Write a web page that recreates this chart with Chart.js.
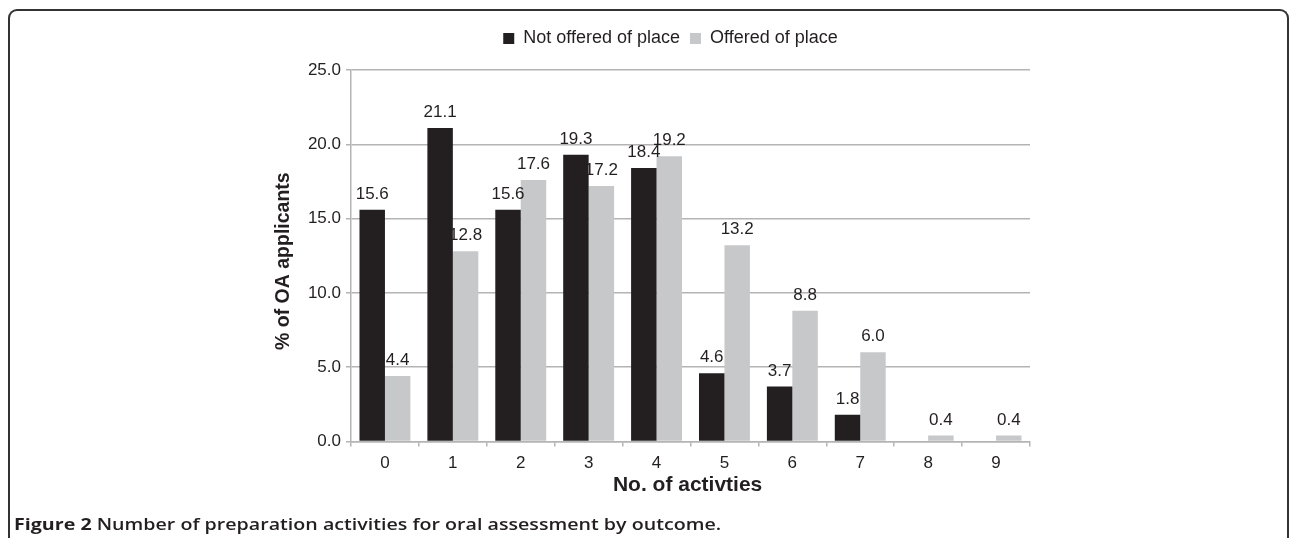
<!DOCTYPE html>
<html>
<head>
<meta charset="utf-8">
<script src="https://cdn.jsdelivr.net/npm/chart.js@4.4.1/dist/chart.umd.min.js"></script>
<style>
  html, body { margin: 0; padding: 0; background: #fff; }
  body { width: 1290px; height: 538px; overflow: hidden; position: relative; }
  #frame {
    position: absolute; left: 8px; top: 9px; width: 1277px; height: 600px;
    border: 2px solid #333; border-bottom: none;
    border-top-left-radius: 9px; border-top-right-radius: 9px;
  }
  #chart { position: absolute; left: 0; top: 0; }
  #caption {
    position: absolute; left: 14px; top: 512px;
    font-family: "Open Sans", sans-serif; font-weight: 600; font-size: 16.5px;
    line-height: 24px; color: #231f20; white-space: nowrap;
    transform: scaleX(1.19); transform-origin: 0 0;
  }
  #caption b { font-weight: 700; }
</style>
</head>
<body>
<div id="frame"></div>
<canvas id="chart" width="1290" height="538"></canvas>
<div id="caption"><b>Figure 2</b> Number of preparation activities for oral assessment by outcome.</div>
<script>
const categories = ["0", "1", "2", "3", "4", "5", "6", "7", "8", "9"];
const notOffered = [15.6, 21.1, 15.6, 19.3, 18.4, 4.6, 3.7, 1.8, 0, 0];
const offered = [4.4, 12.8, 17.6, 17.2, 19.2, 13.2, 8.8, 6.0, 0.4, 0.4];
const yMax = 25;
const yStep = 5;

const dark = "#231f20";
const light = "#c7c8ca";
const gridGray = "#b4b4b4";
const font = "'Liberation Sans', Arial, sans-serif";

// value labels above bars
const barLabels = {
  id: "barLabels",
  afterDatasetsDraw(chart) {
    const ctx = chart.ctx;
    ctx.save();
    ctx.font = "17px " + font;
    ctx.fillStyle = dark;
    ctx.textAlign = "center";
    ctx.textBaseline = "alphabetic";
    chart.data.datasets.forEach((ds, i) => {
      chart.getDatasetMeta(i).data.forEach((bar, j) => {
        const v = ds.data[j];
        if (!v) return;
        ctx.fillText(v.toFixed(1), bar.x, bar.y - 11);
      });
    });
    ctx.restore();
  }
};

// legend sits higher above the plot (and a bit right) compared to chart.js default
const legendShift = {
  id: "legendShift",
  afterLayout(chart) {
    const lg = chart.legend;
    lg.top -= 12.5; lg.bottom -= 12.5;
    lg.left += 5.5; lg.right += 5.5;
  }
};

new Chart(document.getElementById("chart"), {
  type: "bar",
  data: {
    labels: categories,
    datasets: [
      { label: "Not offered of place", data: notOffered, backgroundColor: dark },
      { label: "Offered of place", data: offered, backgroundColor: light }
    ]
  },
  options: {
    responsive: false,
    animation: false,
    devicePixelRatio: 1,
    categoryPercentage: 0.75,
    barPercentage: 1,
    layout: { padding: { left: 300, right: 260, top: 20, bottom: 40 } },
    plugins: {
      legend: {
        position: "top",
        labels: {
          boxWidth: 11, boxHeight: 11, padding: 10,
          color: dark, font: { family: font, size: 18 }
        }
      },
      tooltip: { enabled: false }
    },
    scales: {
      x: {
        grid: { offset: true, drawOnChartArea: false, drawTicks: true, tickLength: 5, color: gridGray, lineWidth: 1.5 },
        border: { color: gridGray, width: 1.5 },
        ticks: { padding: 7, color: dark, font: { family: font, size: 17 } },
        title: { display: true, text: "No. of activties ", color: dark, padding: 0, font: { family: font, size: 21, weight: "bold" } },
        afterFit(s) { s.height = 56.5; }
      },
      y: {
        min: 0,
        max: yMax,
        grid: { color: gridGray, lineWidth: 1.5, tickLength: 5 },
        border: { color: gridGray, width: 1.5 },
        ticks: { stepSize: yStep, padding: 5, color: dark, font: { family: font, size: 17 }, callback: v => v.toFixed(1) },
        title: { display: true, text: "% of OA applicants  ", color: dark, padding: { top: -28, bottom: 0 }, font: { family: font, size: 19.5, weight: "bold" } },
        afterFit(s) { s.width = 51; s.paddingTop = 70; }
      }
    }
  },
  plugins: [barLabels, legendShift]
});
</script>
</body>
</html>
